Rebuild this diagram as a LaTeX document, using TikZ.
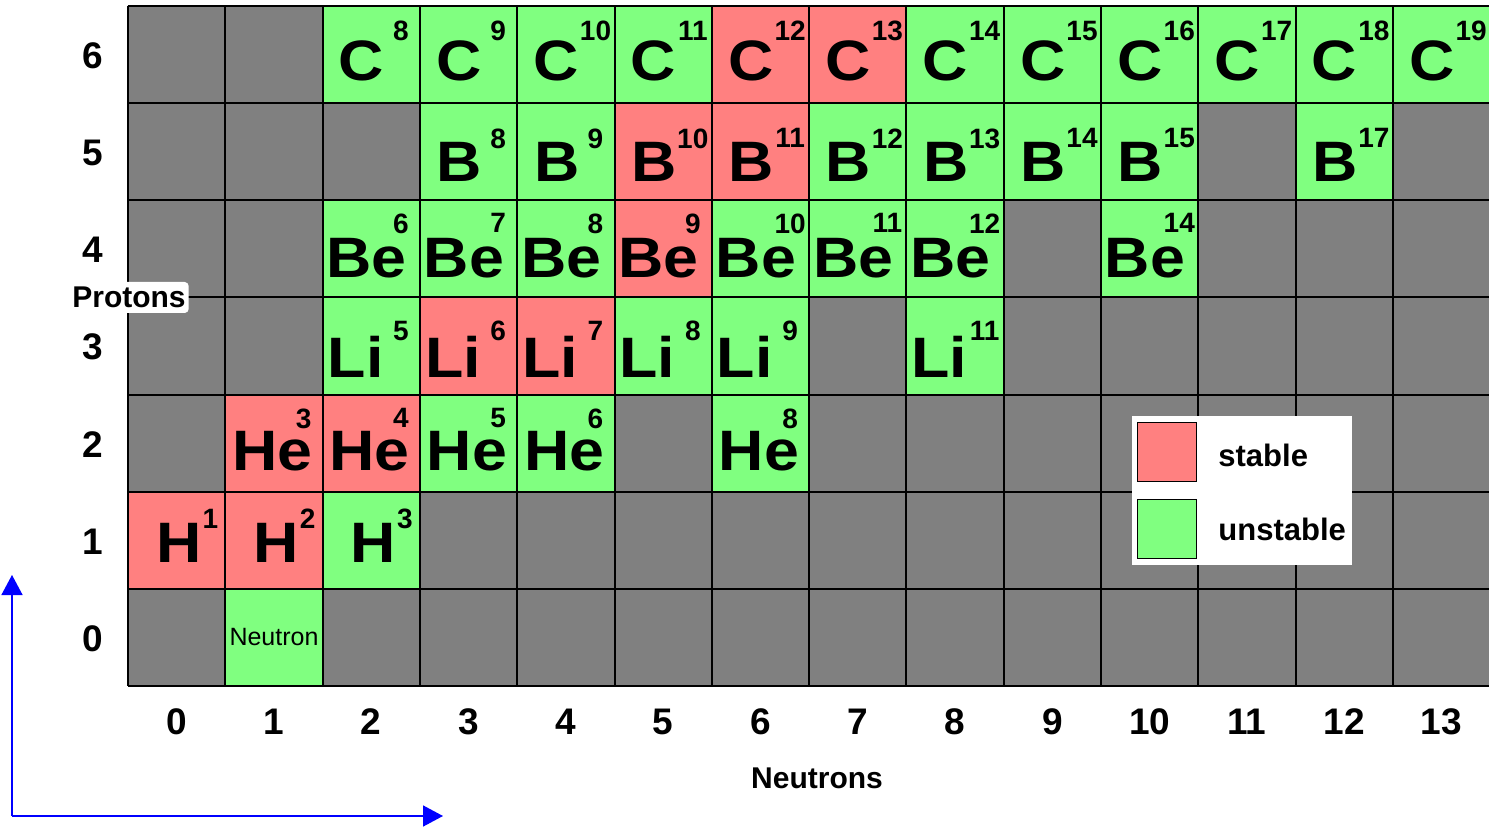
\documentclass[tikz,border=0pt]{standalone}
\usepackage{fontspec}
\setmainfont{Liberation Sans}
\usetikzlibrary{arrows.meta}
\definecolor{stab}{HTML}{FF8080}
\definecolor{unst}{HTML}{80FF80}
\definecolor{grcell}{HTML}{808080}
\definecolor{axblue}{HTML}{0000FF}
\tikzset{
  sym/.style={font=\bfseries\fontsize{28.5}{30}\selectfont, inner sep=0pt, xscale=1.1},
  sup/.style={font=\bfseries\fontsize{14}{16}\selectfont, inner sep=0pt},
  axnum/.style={font=\bfseries\fontsize{18.5}{20}\selectfont, inner sep=0pt},
  axtitle/.style={font=\bfseries\fontsize{15}{17}\selectfont, inner sep=0pt},
  gridline/.style={line width=1pt, black},
  swatch/.style={draw=black, line width=0.8pt, minimum size=29.5pt, inner sep=0pt},
  legtext/.style={font=\bfseries\fontsize{15.5}{17}\selectfont, inner sep=0pt, anchor=base west},
  axarrow/.style={draw=axblue, line width=0.75pt, -{Triangle[length=10pt,width=10.5pt]}},
}
\newcommand\isorow[5]{%
  \foreach \n/\c/\s/\a/\dx in {#5}{%
    \pgfmathsetmacro\xl{128+\n*97.3}%
    \pgfmathsetmacro\yt{6+(6-#1)*97.15}%
    \fill[\c] (\xl,\yt) rectangle ++(97.3,97.15);
    \node[sym,anchor=base] (s\n-#1) at (\xl+\dx,\yt+#2) {\s};
    \node[sup,anchor=north] (a\n-#1) at (\xl+97.3-#4,\yt+#3) {\a};
  }}
\begin{document}
\begin{tikzpicture}[x=0.5pt,y=-0.5pt]
\useasboundingbox (0,0) rectangle (1489,828);
\clip (0,0) rectangle (1489,828);
\fill[white] (0,0) rectangle (1489,828);
% grid background
\fill[grcell] (128,6) rectangle (1492,686);
\isorow{6}{75}{15}{19}{2/unst/C/8/39, 3/unst/C/9/39, 4/unst/C/10/39, 5/unst/C/11/39, 6/stab/C/12/39, 7/stab/C/13/39, 8/unst/C/14/39, 9/unst/C/15/39, 10/unst/C/16/39, 11/unst/C/17/39, 12/unst/C/18/39, 13/unst/C/19/39}
\isorow{5}{78}{25}{19}{3/unst/B/8/39.5, 4/unst/B/9/39.5, 5/stab/B/10/39.5, 6/stab/B/11/39.5, 7/unst/B/12/39.5, 8/unst/B/13/39.5, 9/unst/B/14/39.5, 10/unst/B/15/39.5, 12/unst/B/17/39.5}
\isorow{4}{77}{13}{19}{2/unst/Be/6/44, 3/unst/Be/7/44, 4/unst/Be/8/44, 5/stab/Be/9/44, 6/unst/Be/10/44, 7/unst/Be/11/44, 8/unst/Be/12/44, 10/unst/Be/14/44}
\isorow{3}{80}{23}{19}{2/unst/Li/5/33, 3/stab/Li/6/33, 4/stab/Li/7/33, 5/unst/Li/8/33, 6/unst/Li/9/33, 8/unst/Li/11/33}
\isorow{2}{76}{13.5}{19}{1/stab/He/3/47, 2/stab/He/4/47, 3/unst/He/5/47, 4/unst/He/6/47, 6/unst/He/8/47}
\isorow{1}{71}{17}{15}{0/stab/H/1/51, 1/stab/H/2/51, 2/unst/H/3/51}
% neutron cell
\fill[unst] (225.3,588.9) rectangle ++(97.3,97.15);
\node[font=\fontsize{12.5}{14}\selectfont, inner sep=0pt] (neutron) at (274,637) {Neutron};
% grid lines
\foreach \k in {0,...,13} \draw[gridline] ({128+\k*97.3},6) -- ({128+\k*97.3},686);
\foreach \k in {0,...,7} \draw[gridline] (127.5,{6+\k*97.15}) -- (1492,{6+\k*97.15});
% axis numbers
\foreach \k in {0,...,13} \node[axnum] (xn\k) at ({128+(\k+0.5)*97.3},722) {\k};
\foreach \k in {0,...,6} \node[axnum] (yn\k) at (93,{6+(6.5-\k)*97.15+1}) {\k};
\node[axtitle] (neutrons) at (817,778) {Neutrons};
\node[axtitle, fill=white, rounded corners=2pt, inner xsep=1.5pt, minimum height=15.5pt] (protons) at (129,297.5) {Protons};
% legend
\fill[white] (1132,416) rectangle (1352,565);
\node[swatch, fill=stab] (lstab) at (1167,452) {};
\node[swatch, fill=unst] (lunst) at (1167,529) {};
\node[legtext] (tstab) at (1218,467) {stable};
\node[legtext] (tunst) at (1218,540) {unstable};
% axes arrows
\coordinate (o) at (12,816);
\coordinate (ytip) at (12,575);
\coordinate (xtip) at (443,816);
\draw[axarrow] (o) -- (ytip);
\draw[axarrow] (o) -- (xtip);
\end{tikzpicture}
\end{document}
